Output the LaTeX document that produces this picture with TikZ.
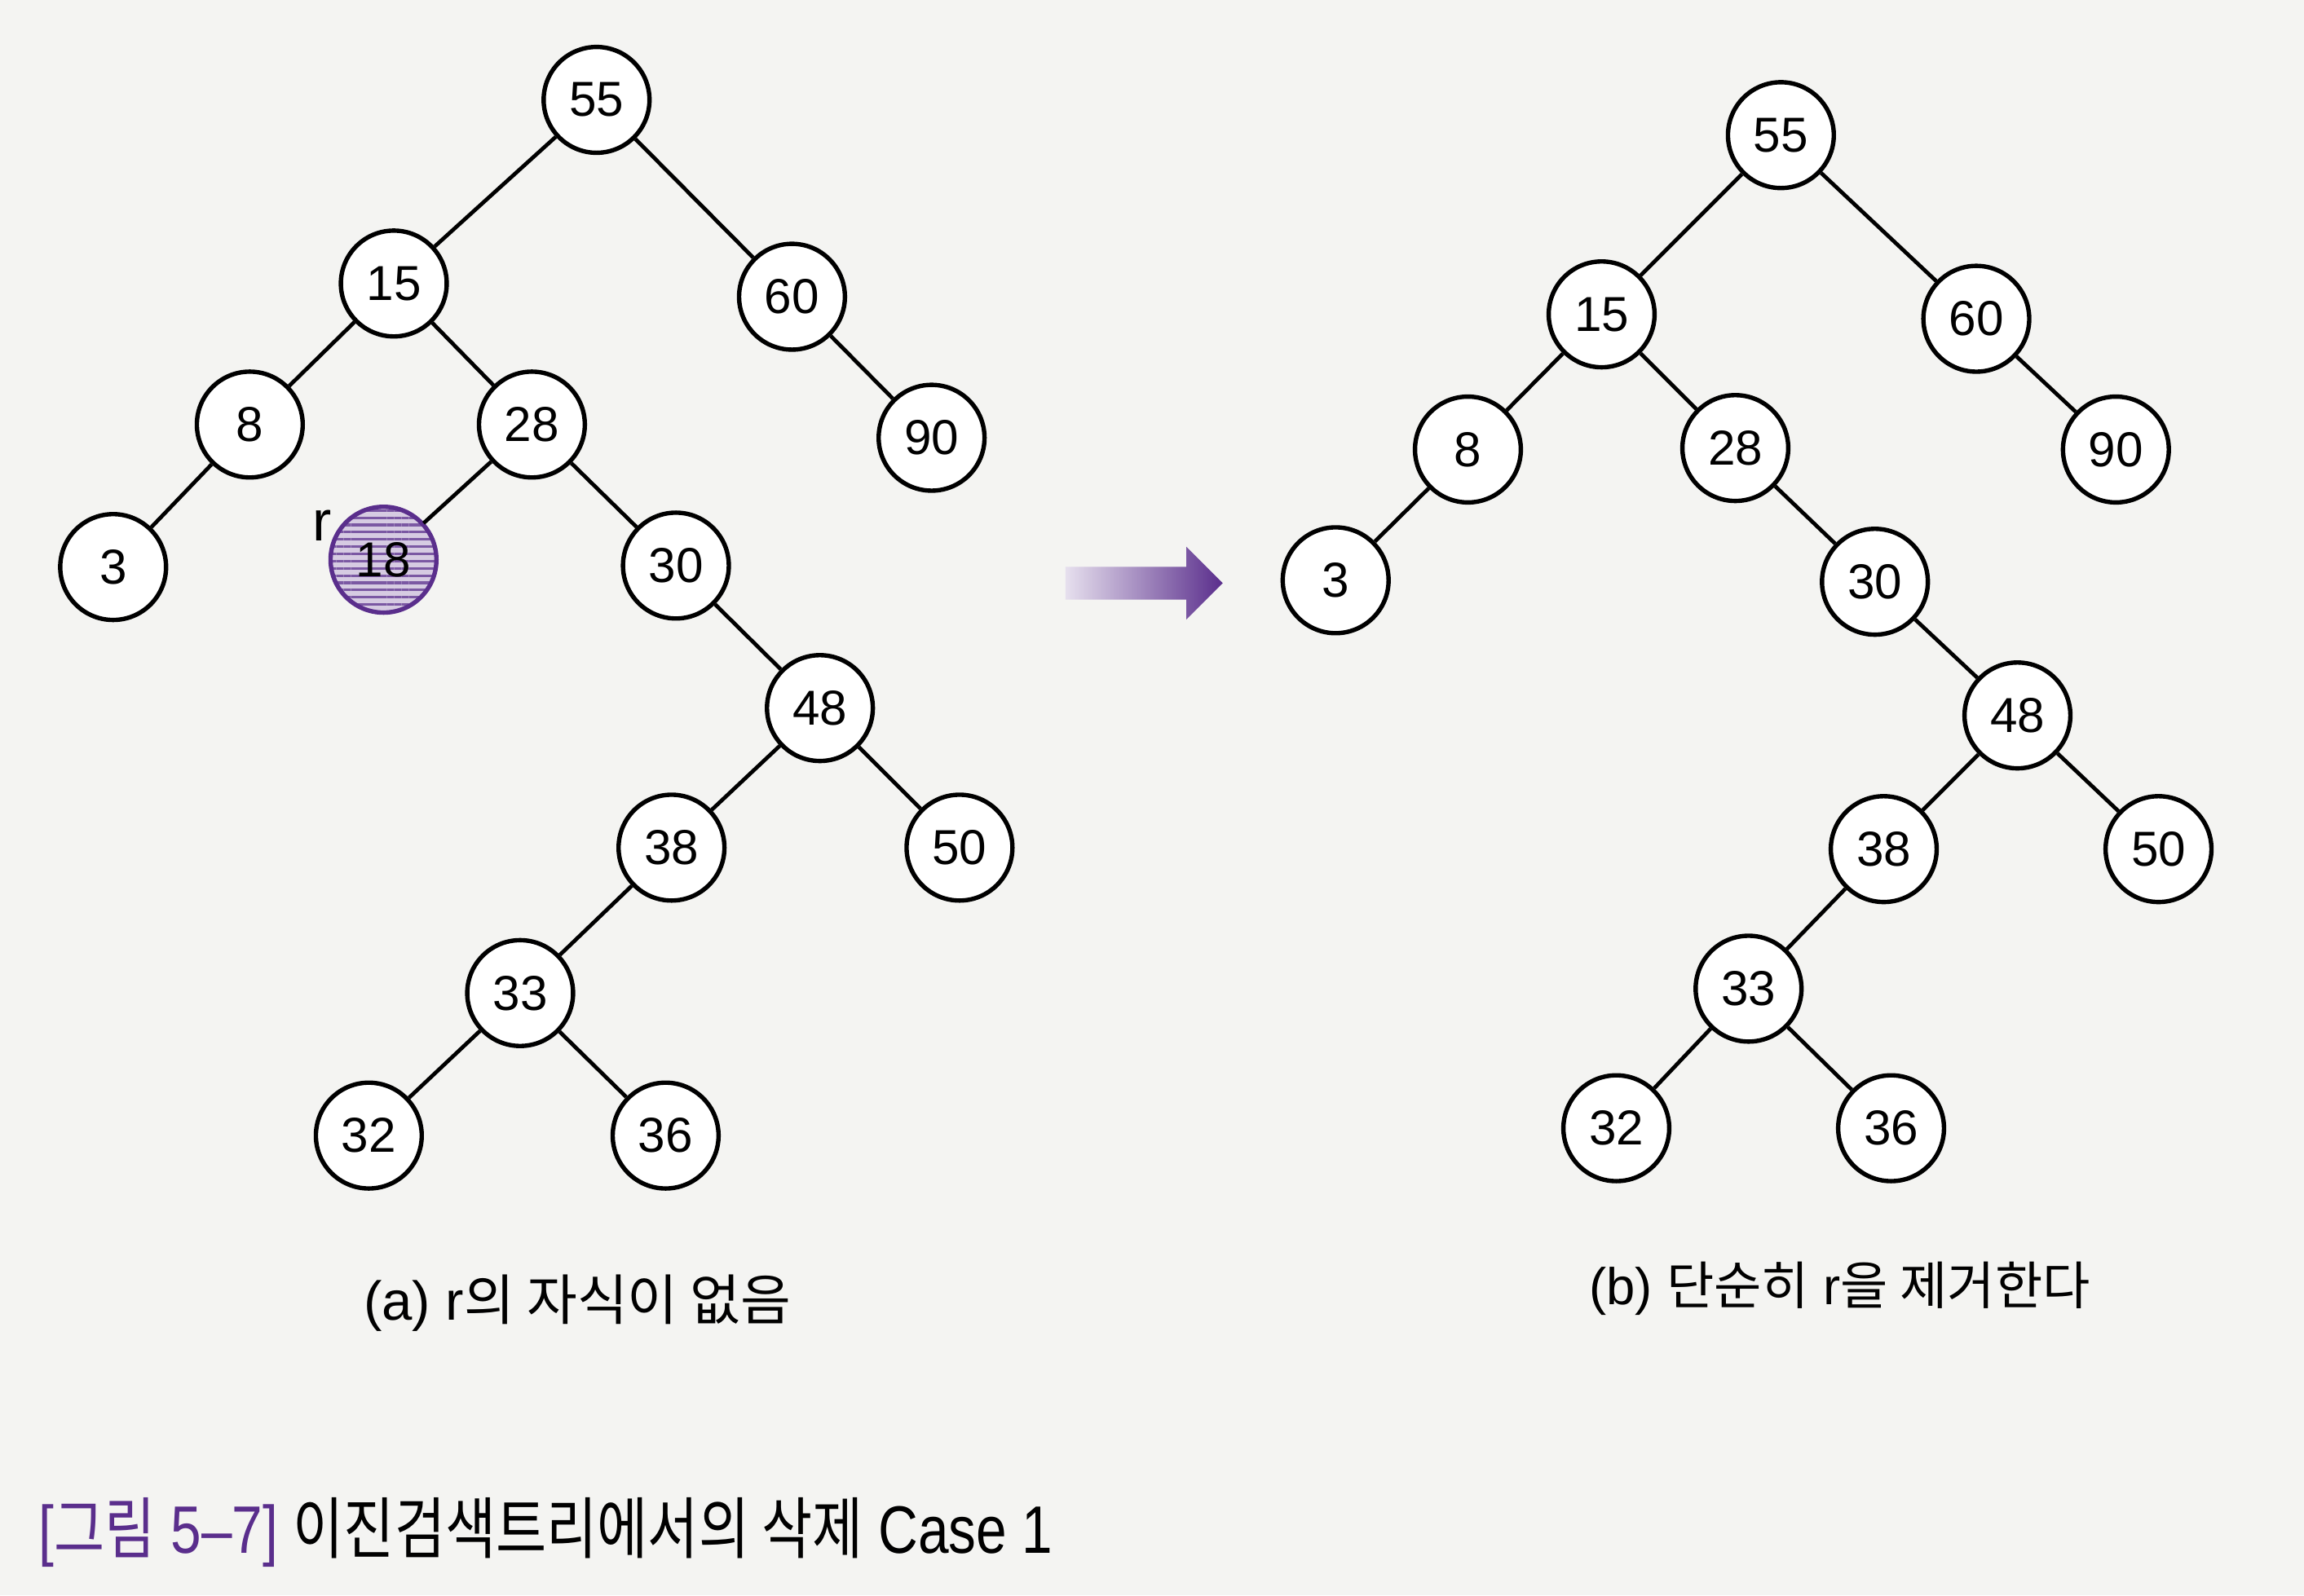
\documentclass[tikz,border=0pt]{standalone}
\usepackage{fontspec}
\setmainfont{Liberation Sans}
\newfontfamily\kr{Noto Sans CJK KR}
\usetikzlibrary{shapes.arrows,patterns.meta}
\usepackage{xcolor}
\definecolor{bookpurple}{HTML}{5A2E8C}
\definecolor{paper}{HTML}{F4F4F2}

\tikzset{
  key/.style={circle,draw,line width=0.85pt,minimum size=0.72cm,inner sep=0pt,
    fill=white,font=\fontsize{9.5}{11}\selectfont},
  removed/.style={key,draw=bookpurple,preaction={fill=bookpurple!25},
    pattern={Lines[angle=0,distance=1.4pt,line width=0.5pt]},pattern color=bookpurple!80},
  link/.style={line width=0.75pt},
}

\begin{document}
\begin{tikzpicture}[x=0.01cm,y=-0.01cm]
  \fill[paper] (0,0) rectangle (1568,1086);
  \useasboundingbox (0,0) rectangle (1568,1086);

  % (a) before deletion
  \foreach \n/\x/\y in {55/406/68,15/268/193,60/539/202,8/170/289,28/362/289,
      90/634/298,3/77/386,30/460/385,48/558/482,38/457/577,50/653/577,
      33/354/676,32/251/773,36/453/773}
    \node[key] (a\n) at (\x,\y) {\n};
  \node[removed] (a18) at (261,381) {18};
  \node[font=\fontsize{11}{12}\selectfont] (rmark) at (219,358) {r};
  \foreach \p/\c in {55/15,55/60,15/8,15/28,8/3,28/18,28/30,60/90,30/48,
      48/38,48/50,38/33,33/32,33/36}
    \draw[link] (a\p) -- (a\c);

  % arrow between the two trees
  \node[single arrow,draw=none,inner sep=0.105cm,minimum width=0.48cm,
    minimum height=1.07cm,single arrow head extend=0.135cm,
    left color=bookpurple!15,right color=bookpurple] (arrow) at (773,397) {};

  % (b) after deletion
  \foreach \n/\x/\y in {55/1212/92,15/1090/214,60/1345/217,8/999/306,28/1181/305,
      90/1440/306,3/909/395,30/1276/396,48/1373/487,38/1282/578,50/1469/578,
      33/1190/673,32/1100/768,36/1287/768}
    \node[key] (b\n) at (\x,\y) {\n};
  \foreach \p/\c in {55/15,55/60,15/8,15/28,8/3,28/30,60/90,30/48,
      48/38,48/50,38/33,33/32,33/36}
    \draw[link] (b\p) -- (b\c);

  % captions
  \node[font=\fontsize{10.6}{12}\selectfont] (capa) at (393,887)
    {(a) r{\kr 의 자식이 없음}};
  \node[font=\fontsize{10}{12}\selectfont] (capb) at (1252,877)
    {(b) {\kr 단순히} r{\kr 을 제거한다}};
  \node[anchor=west,font=\fontsize{13}{15}\selectfont] (figcap) at (14,1043)
    {\scalebox{0.82}[1]{\textcolor{bookpurple}{[{\kr 그림} 5--7]} {\kr 이진검색트리에서의 삭제} Case 1}};
\end{tikzpicture}
\end{document}
